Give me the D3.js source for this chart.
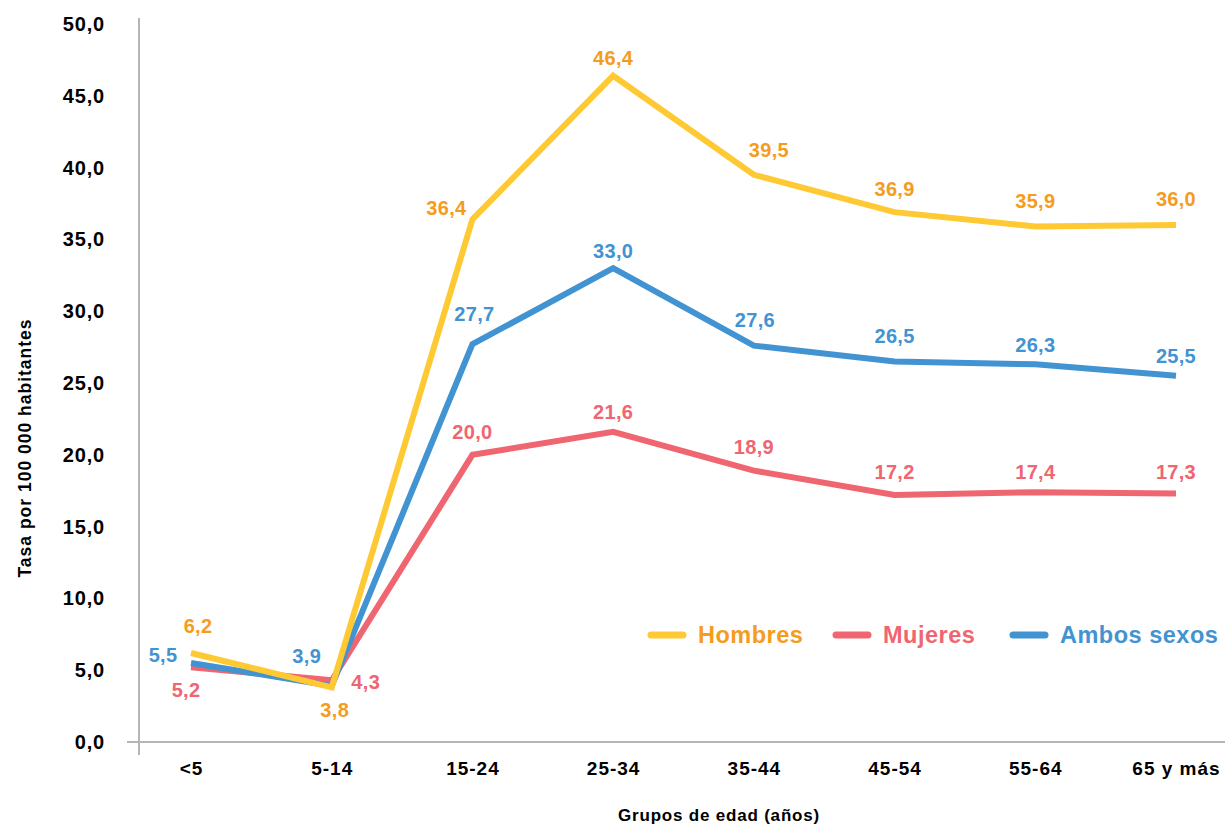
<!DOCTYPE html>
<html>
<head>
<meta charset="utf-8">
<script src="https://cdn.jsdelivr.net/npm/d3@7/dist/d3.min.js"></script>
<style>
  html, body { margin: 0; padding: 0; background: #fff; }
  svg { display: block; font-family: "Liberation Sans", Arial, Helvetica, sans-serif; }
</style>
</head>
<body>
<svg id="chart" width="1225" height="827"></svg>
<script>
// Age groups and rates per 100 000 inhabitants
const categories = ["<5", "5-14", "15-24", "25-34", "35-44", "45-54", "55-64", "65 y más"];
const hombres = [6.2, 3.8, 36.4, 46.4, 39.5, 36.9, 35.9, 36.0];
const mujeres = [5.2, 4.3, 20.0, 21.6, 18.9, 17.2, 17.4, 17.3];
const ambos   = [5.5, 3.9, 27.7, 33.0, 27.6, 26.5, 26.3, 25.5];
const yTicks  = [0, 5, 10, 15, 20, 25, 30, 35, 40, 45, 50];

const seriesList = [
  { name: "Hombres", values: hombres, line: "#FFC933", text: "#F59C1E" },
  { name: "Mujeres", values: mujeres, line: "#EF6570", text: "#EF6570" },
  { name: "Ambos sexos", values: ambos, line: "#4293D1", text: "#4293D1" }
];

// label offsets (dx, dy to baseline) per series and category, keeping labels clear of the lines
const labelOffsets = {
  "Hombres":     [[7, -20], [3, 30], [-26, -4], [0, -11], [15, -18], [0, -16], [0, -18], [0, -19]],
  "Mujeres":     [[-5, 30], [34, 9], [0, -16], [0, -13], [0, -17], [0, -16], [0, -13], [0, -15]],
  "Ambos sexos": [[-28, -1], [-25, -23], [2, -23], [0, -10], [1, -19], [0, -18], [0, -12], [0, -13]]
};

const svg = d3.select("#chart");
const axisColor = "#B5B5B5";

const x = d3.scalePoint().domain(categories).range([191, 1176]);
const y = d3.scaleLinear().domain([0, 50]).range([742, 24]);
const fmt = v => d3.format(".1f")(v).replace(".", ",");

// Y axis
const yAxis = d3.axisLeft(y).tickValues(yTicks).tickSize(0).tickPadding(34).tickFormat(fmt);
const gy = svg.append("g").attr("transform", "translate(139,0)").call(yAxis);
gy.select(".domain").remove();
gy.selectAll("text").attr("font-size", 20).attr("font-weight", "bold")
  .attr("letter-spacing", 0.8).attr("fill", "#000");
svg.append("line").attr("x1", 139).attr("x2", 139).attr("y1", 18).attr("y2", 755)
  .attr("stroke", axisColor).attr("stroke-width", 2);

// X axis
const xAxis = d3.axisBottom(x).tickSize(0).tickPadding(20);
const gx = svg.append("g").attr("transform", `translate(0,${y(0)})`).call(xAxis);
gx.select(".domain").remove();
gx.selectAll("text").attr("font-size", 19).attr("font-weight", "bold")
  .attr("letter-spacing", 1).attr("fill", "#000");
svg.append("line").attr("x1", 127).attr("x2", 1225).attr("y1", y(0)).attr("y2", y(0))
  .attr("stroke", axisColor).attr("stroke-width", 2);

// Axis titles
svg.append("text").attr("transform", "translate(31,448) rotate(-90)")
  .attr("text-anchor", "middle").attr("font-size", 17.5).attr("font-weight", "bold")
  .attr("letter-spacing", 1)
  .text("Tasa por 100 000 habitantes");
svg.append("text").attr("x", 719).attr("y", 821)
  .attr("text-anchor", "middle").attr("font-size", 17).attr("font-weight", "bold")
  .attr("letter-spacing", 0.8)
  .text("Grupos de edad (años)");

// Lines
const lineGen = d3.line().x((d, i) => x(categories[i])).y(d => y(d));
const drawOrder = [seriesList[1], seriesList[2], seriesList[0]];
drawOrder.forEach(s => {
  svg.append("path").datum(s.values)
    .attr("d", lineGen).attr("fill", "none")
    .attr("stroke", s.line).attr("stroke-width", 6)
    .attr("stroke-linejoin", "miter").attr("stroke-linecap", "butt");
});

// Value labels
seriesList.forEach(s => {
  svg.append("g").selectAll("text").data(s.values).join("text")
    .attr("x", (d, i) => x(categories[i]) + labelOffsets[s.name][i][0])
    .attr("y", (d, i) => y(d) + labelOffsets[s.name][i][1])
    .attr("text-anchor", "middle")
    .attr("font-size", 20).attr("font-weight", "bold")
    .attr("letter-spacing", 0.3)
    .attr("fill", s.text)
    .text(d => fmt(d));
});

// Legend
const legendItems = [
  { s: seriesList[0], x: 648 },
  { s: seriesList[1], x: 833 },
  { s: seriesList[2], x: 1010 }
];
legendItems.forEach(it => {
  svg.append("line").attr("x1", it.x + 3).attr("x2", it.x + 35).attr("y1", 635).attr("y2", 635)
    .attr("stroke", it.s.line).attr("stroke-width", 7).attr("stroke-linecap", "round");
  svg.append("text").attr("x", it.x + 50).attr("y", 643)
    .attr("font-size", 23.5).attr("font-weight", "bold").attr("fill", it.s.text)
    .attr("letter-spacing", 0.5)
    .text(it.s.name);
});
</script>
</body>
</html>
